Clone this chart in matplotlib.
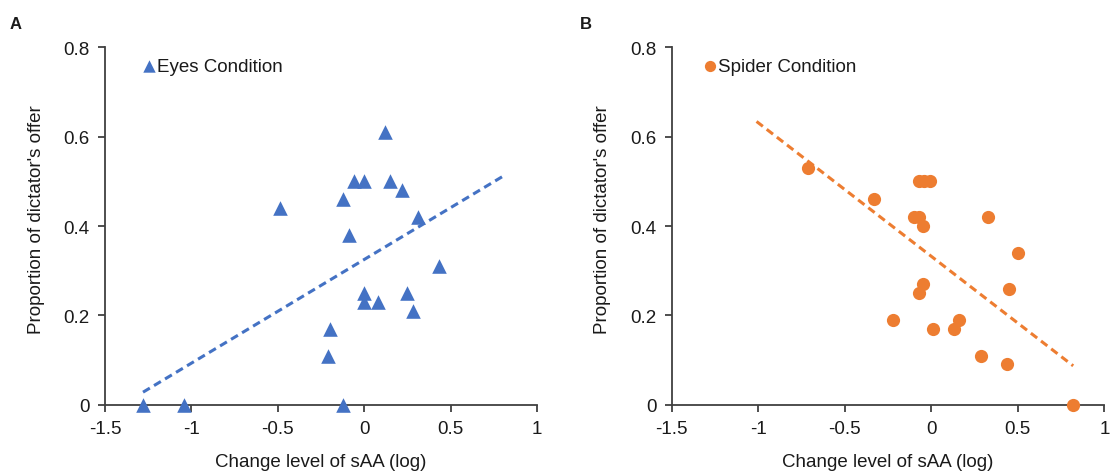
import matplotlib
matplotlib.use("Agg")
import matplotlib.pyplot as plt
import numpy as np

plt.rcParams['font.family'] = ['Liberation Sans', 'DejaVu Sans']

# ---- data ----
eyes_x = [-1.28, -1.04, -0.12, -0.49, -0.21, -0.20, -0.12, -0.09, -0.06, 0.00,
          0.12, 0.15, 0.22, 0.31, 0.43, 0.00, 0.00, 0.08, 0.25, 0.28]
eyes_y = [0.00, 0.00, 0.00, 0.44, 0.11, 0.17, 0.46, 0.38, 0.50, 0.50,
          0.61, 0.50, 0.48, 0.42, 0.31, 0.25, 0.23, 0.23, 0.25, 0.21]
eyes_trend_x = [-1.28, 0.81]
eyes_trend_y = [0.028, 0.513]

spider_x = [-0.71, -0.33, -0.22, -0.07, -0.04, -0.01, -0.10, -0.07, -0.05, -0.05,
            -0.07, 0.01, 0.13, 0.16, 0.33, 0.50, 0.45, 0.29, 0.44, 0.82]
spider_y = [0.53, 0.46, 0.19, 0.50, 0.50, 0.50, 0.42, 0.42, 0.40, 0.27,
            0.25, 0.17, 0.17, 0.19, 0.42, 0.34, 0.26, 0.11, 0.09, 0.00]
spider_trend_x = [-1.01, 0.82]
spider_trend_y = [0.634, 0.087]

x_ticks = [-1.5, -1, -0.5, 0, 0.5, 1]
x_tick_labels = ['-1.5', '-1', '-0.5', '0', '0.5', '1']
y_ticks = [0, 0.2, 0.4, 0.6, 0.8]
y_tick_labels = ['0', '0.2', '0.4', '0.6', '0.8']

blue = '#4472C4'
orange = '#ED7D31'
axis_col = '#404040'
text_col = '#1a1a1a'
FS = 13.5

fig = plt.figure(figsize=(11.10, 4.77), dpi=100)
axA = fig.add_axes([0.0946, 0.1495, 0.3892, 0.7492])
axB = fig.add_axes([0.6052, 0.1495, 0.3897, 0.7492])

def style(ax):
    ax.set_xlim(-1.5, 1)
    ax.set_ylim(0, 0.8)
    ax.set_xticks(x_ticks)
    ax.set_xticklabels(x_tick_labels)
    ax.set_yticks(y_ticks)
    ax.set_yticklabels(y_tick_labels)
    for s in ['top', 'right']:
        ax.spines[s].set_visible(False)
    for s in ['left', 'bottom']:
        ax.spines[s].set_color(axis_col)
        ax.spines[s].set_linewidth(1.3)
    ax.tick_params(axis='both', direction='out', length=5, width=1.3,
                   color=axis_col, labelsize=FS, labelcolor=text_col, pad=6)
    ax.set_xlabel('Change level of sAA (log)', fontsize=FS, color=text_col)
    ax.set_ylabel("Proportion of dictator's offer", fontsize=FS, color=text_col)
    ax.xaxis.set_label_coords(0.5, -0.135)
    ax.yaxis.set_label_coords(-0.14, 0.522)
    ax.set_facecolor('white')

style(axA)
style(axB)

dash = (0, (2.6, 1.6))
axA.plot(eyes_trend_x, eyes_trend_y, color=blue, lw=2.2, ls=dash, zorder=2)
axA.scatter(eyes_x, eyes_y, marker='^', s=10.5**2, color=blue, linewidths=0,
            zorder=3, clip_on=False, label='Eyes Condition')
axB.plot(spider_trend_x, spider_trend_y, color=orange, lw=2.2, ls=dash, zorder=2)
axB.scatter(spider_x, spider_y, marker='o', s=9.5**2, color=orange, linewidths=0,
            zorder=3, clip_on=False, label='Spider Condition')

for ax, xa in ((axA, 0.087), (axB, 0.073)):
    ax.legend(loc='upper left', bbox_to_anchor=(xa, 0.971), frameon=False,
              fontsize=FS, handletextpad=0.08, handlelength=0.7,
              borderaxespad=0, borderpad=0, markerscale=0.85, scatterpoints=1,
              labelcolor=text_col)

fig.text(0.009, 0.940, 'A', fontsize=12, fontweight='bold', color=text_col)
fig.text(0.522, 0.940, 'B', fontsize=12, fontweight='bold', color=text_col)

fig.savefig('out.png', dpi=100, facecolor='white')
